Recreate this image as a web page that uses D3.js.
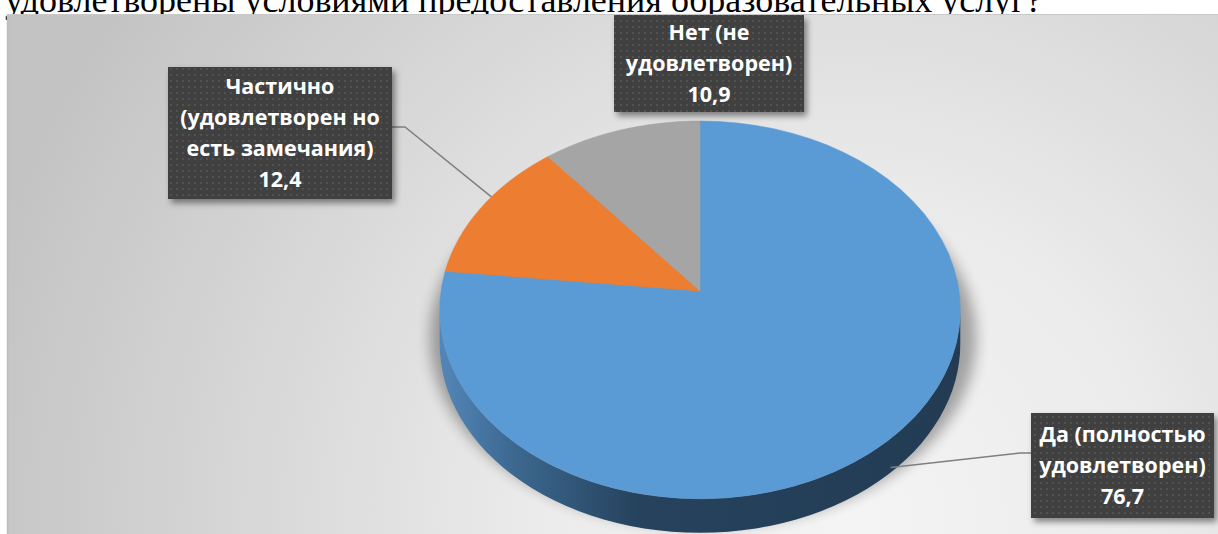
<!DOCTYPE html>
<html>
<head>
<meta charset="utf-8">
<script src="https://cdn.jsdelivr.net/npm/d3@7"></script>
<style>
  html, body { margin: 0; padding: 0; background: #fff; overflow: hidden; }
  svg { display: block; }
</style>
</head>
<body>
<div id="chart"></div>
<script>
// chart data
const categories = ["Да (полностью удовлетворен)", "Частично (удовлетворен но есть замечания)", "Нет (не удовлетворен)"];
const values = [76.7, 12.4, 10.9];
const labelLines = [
    ["Да (полностью", "удовлетворен)", "76,7"],
    ["Частично", "(удовлетворен но", "есть замечания)", "12,4"],
    ["Нет (не", "удовлетворен)", "10,9"]
];
const sliceColors = ["#5b9bd5", "#ed7d31", "#a5a5a5"];
const titleText = "удовлетворены условиями предоставления образовательных услуг?";

const W = 1218, H = 534;

const svg = d3.select("#chart").append("svg")
    .attr("width", W)
    .attr("height", H);

const defs = svg.append("defs");

// background gradient of the chart area
const bg = defs.append("radialGradient")
    .attr("id", "bgGrad")
    .attr("gradientUnits", "userSpaceOnUse")
    .attr("cx", 850).attr("cy", 520).attr("r", 900);
bg.append("stop").attr("offset", 0).attr("stop-color", "#f4f4f4");
bg.append("stop").attr("offset", 0.35).attr("stop-color", "#ebebeb");
bg.append("stop").attr("offset", 1).attr("stop-color", "#c3c3c3");

// dotted pattern for label boxes
const pat = defs.append("pattern")
    .attr("id", "dots")
    .attr("patternUnits", "userSpaceOnUse")
    .attr("width", 6).attr("height", 6);
pat.append("rect").attr("width", 6).attr("height", 6).attr("fill", "#3f3f3f");
pat.append("circle").attr("cx", 3).attr("cy", 3).attr("r", 0.9).attr("fill", "#5a5a5a");

const boxShadow = defs.append("filter").attr("id", "boxShadow")
    .attr("x", "-20%").attr("y", "-20%").attr("width", "150%").attr("height", "150%");
boxShadow.append("feDropShadow")
    .attr("dx", 3).attr("dy", 4).attr("stdDeviation", 3)
    .attr("flood-color", "#000").attr("flood-opacity", 0.45);

const blur = defs.append("filter").attr("id", "pieShadow")
    .attr("x", "-30%").attr("y", "-30%").attr("width", "160%").attr("height", "160%");
blur.append("feGaussianBlur").attr("stdDeviation", 7);

// title line (cut off by the chart, as in the source page)
svg.append("text")
    .attr("x", 5)
    .attr("y", 12)
    .style("font-family", "'Liberation Serif', 'Times New Roman', serif")
    .style("font-size", "36px")
    .attr("fill", "#000")
    .text(titleText);

// chart area
svg.append("rect")
    .attr("x", 7).attr("y", 14)
    .attr("width", W - 7).attr("height", H - 14)
    .attr("fill", "url(#bgGrad)");
svg.append("line")
    .attr("x1", 7.5).attr("x2", 7.5).attr("y1", 14).attr("y2", H)
    .attr("stroke", "#bdbdbd").attr("stroke-width", 1.5);
svg.append("line")
    .attr("x1", 7).attr("x2", W).attr("y1", 14.5).attr("y2", 14.5)
    .attr("stroke", "#c9c9c9").attr("stroke-width", 1);

// 3d pie geometry with a little perspective (far side smaller)
const cx = 700, cy = 291, rx = 259, ry = 187, depth = 34, persp = 0.1;
const pt = (a, dy = 0) => {
    const X = Math.sin(a), Z = Math.cos(a);
    const s = 1 / (1 + persp * Z);
    return [cx + rx * X * s, cy - ry * Z * s + dy];
};
// sampled rim between two angles
const rim = (a0, a1, dy = 0) => d3.range(0, 61).map(k => pt(a0 + (a1 - a0) * k / 60, dy));
const poly = pts => pts.map(p => p[0].toFixed(1) + "," + p[1].toFixed(1)).join("L");

const pie = d3.pie().sort(null).value(d => d)(values);

const sideGrad = defs.append("linearGradient")
    .attr("id", "sideGrad")
    .attr("gradientUnits", "userSpaceOnUse")
    .attr("x1", cx - rx).attr("x2", cx + rx).attr("y1", 0).attr("y2", 0);
sideGrad.append("stop").attr("offset", 0).attr("stop-color", "#5386b8");
sideGrad.append("stop").attr("offset", 0.14).attr("stop-color", "#3c6890");
sideGrad.append("stop").attr("offset", 0.38).attr("stop-color", "#26425d");
sideGrad.append("stop").attr("offset", 1).attr("stop-color", "#233c54");

const pieG = svg.append("g");

// soft shadow under the pie
pieG.append("path")
    .attr("d", "M" + poly(rim(0, 2 * Math.PI, depth * 0.6).map(p => [cx + (p[0] - cx) * 1.05 + 3, p[1] + 8])) + "Z")
    .attr("fill", "#000").attr("opacity", 0.32)
    .attr("filter", "url(#pieShadow)");

// side walls: front half, between the left and right extremes of the rim
const front0 = Math.PI / 2 + Math.asin(persp), front1 = 3 * Math.PI / 2 - Math.asin(persp);
pie.forEach((s, i) => {
    const a = Math.max(s.startAngle, front0), b = Math.min(s.endAngle, front1);
    if (b <= a) return;
    const d = "M" + poly(rim(a, b)) + "L" + poly(rim(b, a, depth)) + "Z";
    pieG.append("path").attr("d", d)
        .attr("fill", i === 0 ? "url(#sideGrad)" : d3.color(sliceColors[i]).darker(1.2));
});

// top faces
const centre = [cx, cy];
pie.forEach((s, i) => {
    const d = "M" + centre.join(",") + "L" + poly(rim(s.startAngle, s.endAngle)) + "Z";
    pieG.append("path").attr("d", d).attr("fill", sliceColors[i])
        .attr("stroke", sliceColors[i]).attr("stroke-width", 0.5);
});

// labels
const deg = Math.PI / 180;
const labelLayout = [
    { x: 1031, y: 413, w: 183, h: 105, elbow: [1020, 453], end: [1031, 453], anchor: 137 * deg, onSide: true },
    { x: 168, y: 67, w: 224, h: 132, elbow: [405, 127], end: [392, 127], anchor: 302 * deg, onSide: false },
    { x: 614, y: 15, w: 190, h: 97, elbow: null }
];

const lineH = 31;
labelLayout.forEach((L, i) => {
    if (L.elbow) {
        const a = pt(L.anchor, L.onSide ? depth * 0.85 : 0);
        svg.append("polyline")
            .attr("points", [a, L.elbow, L.end].map(p => p.join(",")).join(" "))
            .attr("fill", "none")
            .attr("stroke", "#7f7f7f")
            .attr("stroke-width", 1.5);
    }
    const g = svg.append("g");
    g.append("rect")
        .attr("x", L.x).attr("y", L.y)
        .attr("width", L.w).attr("height", L.h)
        .attr("fill", "url(#dots)")
        .attr("filter", "url(#boxShadow)");
    const lines = labelLines[i];
    const top = L.y + L.h / 2 - (lines.length - 1) * lineH / 2;
    lines.forEach((t, k) => {
        g.append("text")
            .attr("x", L.x + L.w / 2)
            .attr("y", top + k * lineH)
            .attr("dy", "0.35em")
            .attr("text-anchor", "middle")
            .style("font-family", "'Open Sans', sans-serif")
            .style("font-weight", 700)
            .style("font-size", "21.5px")
            .attr("fill", "#fff")
            .text(t);
    });
});
</script>
</body>
</html>
